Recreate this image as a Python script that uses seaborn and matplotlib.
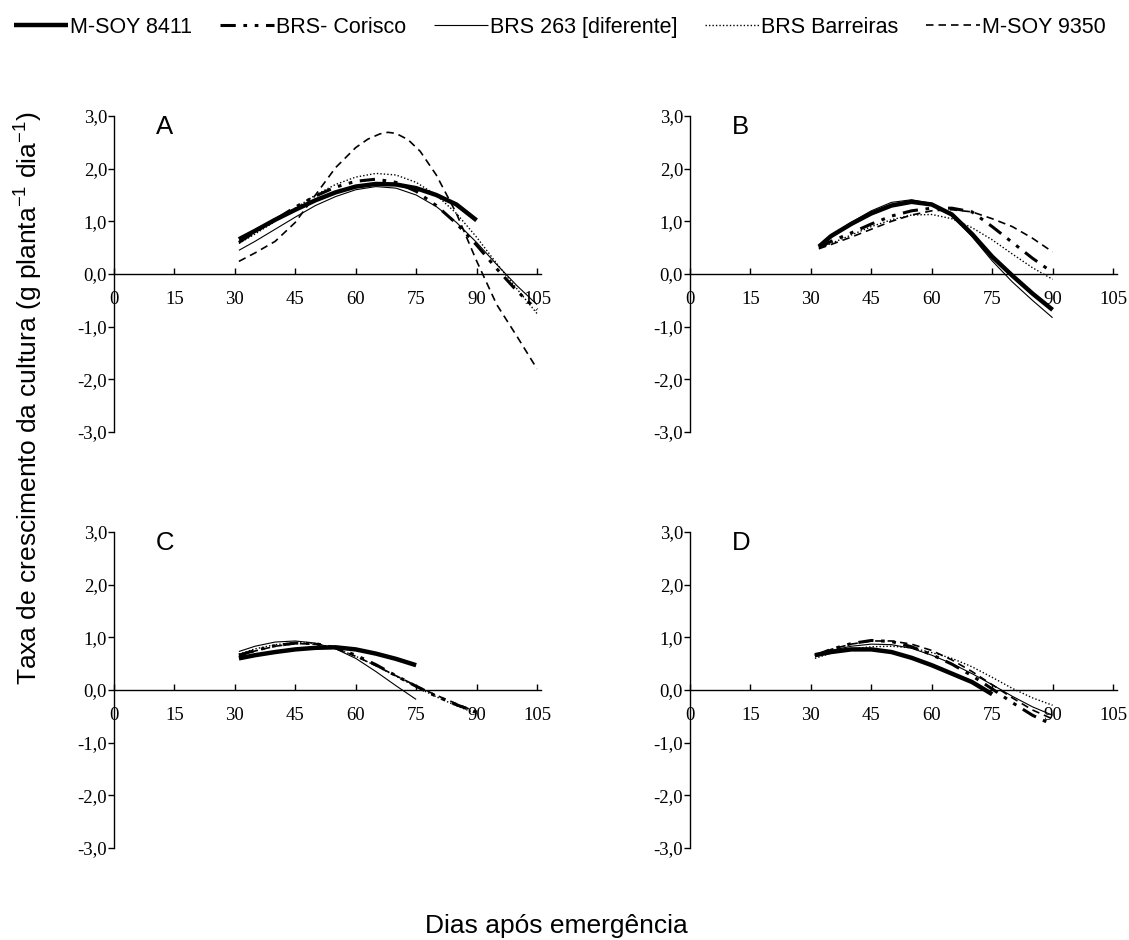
import numpy as np
import pandas as pd
import matplotlib
matplotlib.use("Agg")
import matplotlib.pyplot as plt
from matplotlib.ticker import FuncFormatter
import seaborn as sns

# Cultivares (ordem da legenda)
cultivares = ["M-SOY 8411", "BRS- Corisco", "BRS 263 [diferente]", "BRS Barreiras", "M-SOY 9350"]

# Painel A
dias_a = [31, 35, 40, 45, 50, 55, 60, 65, 70, 75, 80, 85, 90, 95, 100, 105]
a_8411 = [0.66, 0.82, 1.03, 1.22, 1.40, 1.55, 1.66, 1.71, 1.70, 1.63, 1.50, 1.32, 1.02]
a_corisco = [0.60, 0.80, 1.03, 1.27, 1.48, 1.65, 1.76, 1.80, 1.74, 1.57, 1.30, 0.96, 0.55, 0.10, -0.32, -0.68]
a_263 = [0.45, 0.62, 0.85, 1.08, 1.30, 1.47, 1.60, 1.66, 1.63, 1.50, 1.28, 0.98, 0.60, 0.18, -0.22, -0.58]
a_barreiras = [0.58, 0.76, 1.00, 1.25, 1.50, 1.70, 1.84, 1.91, 1.88, 1.74, 1.50, 1.15, 0.70, 0.20, -0.28, -0.75]
# M-SOY 9350 no painel A tem pico estreito: leituras mais densas
dias_a_9350 = [31, 35, 40, 45, 50, 55, 60, 63, 66, 68, 70, 73, 76, 80, 85, 90, 95, 100, 105]
a_9350 = [0.24, 0.40, 0.62, 0.98, 1.50, 2.02, 2.40, 2.56, 2.66, 2.69, 2.67, 2.55, 2.33, 1.88, 1.15, 0.25, -0.58, -1.18, -1.80]

# Painel B
dias_b = [32, 35, 40, 45, 50, 55, 60, 65, 70, 75, 80, 85, 90]
b_8411 = [0.52, 0.72, 0.95, 1.15, 1.30, 1.37, 1.32, 1.13, 0.76, 0.33, -0.03, -0.37, -0.68]
b_corisco = [0.50, 0.62, 0.78, 0.95, 1.10, 1.20, 1.25, 1.25, 1.18, 0.90, 0.60, 0.30, 0.03]
b_263 = [0.50, 0.72, 0.98, 1.20, 1.36, 1.41, 1.34, 1.11, 0.71, 0.25, -0.15, -0.50, -0.83]
b_barreiras = [0.48, 0.58, 0.74, 0.90, 1.03, 1.12, 1.13, 1.05, 0.88, 0.65, 0.38, 0.12, -0.10]
b_9350 = [0.48, 0.56, 0.70, 0.85, 1.00, 1.12, 1.20, 1.22, 1.18, 1.05, 0.90, 0.68, 0.42]

# Painel C
dias_c = [31, 35, 40, 45, 50, 55, 60, 65, 70, 75, 80, 85, 90]
c_8411 = [0.60, 0.66, 0.72, 0.77, 0.80, 0.81, 0.77, 0.69, 0.59, 0.47]
c_corisco = [0.66, 0.75, 0.84, 0.89, 0.88, 0.80, 0.66, 0.48, 0.27, 0.07, -0.12, -0.28, -0.42]
c_263 = [0.73, 0.83, 0.91, 0.93, 0.89, 0.78, 0.60, 0.35, 0.08, -0.18]
c_barreiras = [0.68, 0.78, 0.86, 0.90, 0.88, 0.79, 0.64, 0.46, 0.26, 0.06, -0.13, -0.30, -0.45]
c_9350 = [0.64, 0.74, 0.83, 0.88, 0.87, 0.79, 0.64, 0.46, 0.27, 0.08, -0.10, -0.26, -0.42]

# Painel D
dias_d = [31, 35, 40, 45, 50, 55, 60, 65, 70, 75, 80, 85, 90]
d_8411 = [0.66, 0.72, 0.77, 0.77, 0.72, 0.61, 0.47, 0.31, 0.15, -0.08]
d_corisco = [0.65, 0.77, 0.88, 0.94, 0.92, 0.82, 0.67, 0.49, 0.27, 0.02, -0.24, -0.48, -0.66]
d_263 = [0.66, 0.75, 0.83, 0.87, 0.86, 0.79, 0.66, 0.50, 0.31, 0.10, -0.12, -0.32, -0.48]
d_barreiras = [0.60, 0.70, 0.78, 0.82, 0.83, 0.80, 0.71, 0.60, 0.44, 0.24, 0.03, -0.15, -0.29]
d_9350 = [0.64, 0.77, 0.87, 0.93, 0.93, 0.87, 0.75, 0.57, 0.35, 0.10, -0.15, -0.38, -0.55]

paineis = [
    ("A", [dias_a] * 4 + [dias_a_9350], [a_8411, a_corisco, a_263, a_barreiras, a_9350]),
    ("B", [dias_b] * 5, [b_8411, b_corisco, b_263, b_barreiras, b_9350]),
    ("C", [dias_c] * 5, [c_8411, c_corisco, c_263, c_barreiras, c_9350]),
    ("D", [dias_d] * 5, [d_8411, d_corisco, d_263, d_barreiras, d_9350]),
]

# estilo de cada cultivar: (largura, padrao de tracos)
estilos = [
    (3.2, (0, ())),
    (2.2, (0, (5, 2.5, 1.2, 2.5, 1.2, 2.5))),
    (0.8, (0, ())),
    (1.0, (0, (1, 1.5))),
    (1.2, (0, (4.5, 3))),
]

sns.set_style("ticks")
plt.rcParams["font.family"] = ["Liberation Sans", "DejaVu Sans"]
plt.rcParams["mathtext.fontset"] = "custom"
plt.rcParams["mathtext.rm"] = "Liberation Sans"
plt.rcParams["axes.linewidth"] = 1.0
plt.rcParams["axes.edgecolor"] = "black"
plt.rcParams["text.color"] = "black"
plt.rcParams["xtick.color"] = "black"
plt.rcParams["ytick.color"] = "black"

fig = plt.figure(figsize=(11.29, 9.4), dpi=100)
posicoes = [
    [0.101, 0.5404, 0.3782, 0.3362],
    [0.6112, 0.5404, 0.3782, 0.3362],
    [0.101, 0.0979, 0.3782, 0.3362],
    [0.6112, 0.0979, 0.3782, 0.3362],
]

fmt = FuncFormatter(lambda v, p: f"{v:.1f}".replace(".", ","))
handles = []
for (letra, dias_lista, series), pos in zip(paineis, posicoes):
    ax = fig.add_axes(pos)
    for i, (nome, dias, vals) in enumerate(zip(cultivares, dias_lista, series)):
        lw, ls = estilos[i]
        df = pd.DataFrame({"dias": dias[:len(vals)], "taxa": vals})
        sns.lineplot(data=df, x="dias", y="taxa", ax=ax, color="black", lw=lw,
                     linestyle=ls, label=nome, legend=False, sort=False)
        if letra == "A":
            handles.append(ax.lines[-1])
    ax.set_xlim(0, 106)
    ax.set_ylim(-3, 3)
    ax.set_xticks(range(0, 106, 15))
    ax.set_yticks([-3, -2, -1, 0, 1, 2, 3])
    ax.yaxis.set_major_formatter(fmt)
    ax.spines["bottom"].set_position(("data", 0))
    ax.spines["top"].set_visible(False)
    ax.spines["right"].set_visible(False)
    ax.set_xlabel("")
    ax.set_ylabel("")
    ax.tick_params(axis="x", direction="in", length=4, width=1, pad=12)
    ax.tick_params(axis="y", direction="out", length=4, width=1, pad=1)
    for t in ax.get_xticklabels() + ax.get_yticklabels():
        t.set_fontfamily("Liberation Serif")
        t.set_fontsize(13.5)
    ax.text(10.4, 2.79, letra, fontsize=18.5, ha="left", va="center")

fig.legend(handles, cultivares, loc="center", bbox_to_anchor=(0.496, 0.971), ncol=5,
           frameon=False, fontsize=15.5, handlelength=2.5, handletextpad=0.1,
           columnspacing=1.3)

fig.text(0.0248, 0.576, "Taxa de crescimento da cultura (g planta$^{-1}$ dia$^{-1}$)",
         rotation=90, ha="center", va="center", fontsize=19)
fig.text(0.4925, 0.0149, "Dias após emergência", ha="center", va="center", fontsize=19)

fig.savefig("out.png", dpi=100)
